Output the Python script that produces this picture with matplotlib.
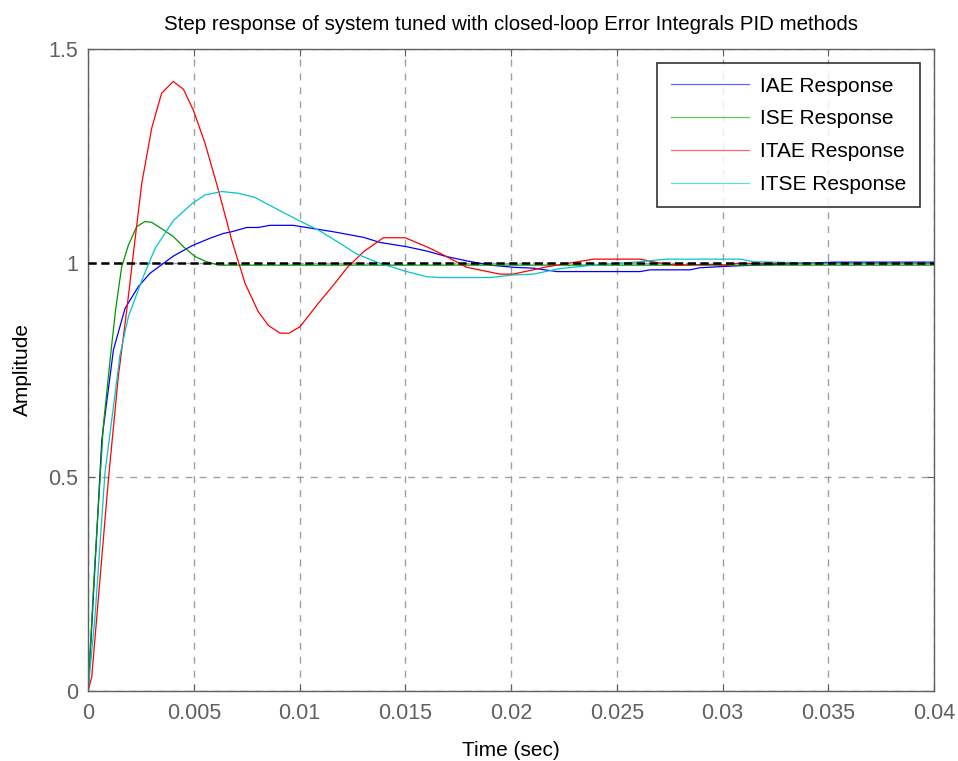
import numpy as np
import matplotlib
matplotlib.use("Agg")
import matplotlib.pyplot as plt

plt.rcParams['font.family'] = ['Liberation Sans', 'DejaVu Sans']

# ---- data ----
t_iae = [0, 0.000175, 0.00065, 0.0012, 0.00175, 0.00238, 0.00293, 0.00403, 0.0049,
         0.00577, 0.0064, 0.00679, 0.0075, 0.00805, 0.0086, 0.00971, 0.01058, 0.0116,
         0.01302, 0.01381, 0.01507, 0.01601, 0.01696, 0.0179, 0.01901, 0.0201, 0.02105,
         0.02216, 0.0261, 0.02657, 0.02846, 0.02894, 0.03051, 0.03524, 0.04]
y_iae = [0, 0.150, 0.586, 0.797, 0.894, 0.945, 0.976, 1.016, 1.040,
         1.058, 1.069, 1.073, 1.083, 1.083, 1.088, 1.088, 1.081, 1.073,
         1.060, 1.048, 1.038, 1.028, 1.015, 1.005, 0.995, 0.990, 0.988,
         0.980, 0.980, 0.984, 0.984, 0.989, 0.993, 1.002, 1.002]

t_ise = [0, 0.0003, 0.00072, 0.00104, 0.00131, 0.00159, 0.00191, 0.0023, 0.0027,
         0.00301, 0.00364, 0.00403, 0.00451, 0.00506, 0.00561, 0.00616, 0.04]
y_ise = [0, 0.28, 0.618, 0.773, 0.894, 0.991, 1.042, 1.085, 1.097,
         1.095, 1.075, 1.062, 1.038, 1.015, 1.003, 0.995, 0.995]

t_itae = [0, 0.000175, 0.00096, 0.00143, 0.00183, 0.00222, 0.00254, 0.00301, 0.00348,
          0.00403, 0.00451, 0.00498, 0.00553, 0.00616, 0.00679, 0.00742, 0.00805,
          0.00853, 0.00908, 0.0095, 0.01002, 0.01089, 0.01168, 0.01223, 0.01302,
          0.01396, 0.01499, 0.01601, 0.0168, 0.0179, 0.01948, 0.0201, 0.02169,
          0.0239, 0.0261, 0.02689, 0.02783, 0.02957, 0.0302, 0.03067, 0.04]
y_itae = [0, 0.033, 0.493, 0.734, 0.890, 1.054, 1.186, 1.315, 1.397,
          1.424, 1.406, 1.357, 1.280, 1.171, 1.054, 0.953, 0.886,
          0.854, 0.836, 0.836, 0.851, 0.906, 0.953, 0.988, 1.026,
          1.059, 1.059, 1.038, 1.019, 0.990, 0.974, 0.974, 0.991,
          1.009, 1.009, 1.001, 0.995, 0.997, 0.995, 0.999, 0.999]

t_itse = [0, 0.00033, 0.0008, 0.00151, 0.00191, 0.00261, 0.00317, 0.00403, 0.0049,
          0.00553, 0.00632, 0.00711, 0.0079, 0.009, 0.00994, 0.01089, 0.01191,
          0.0127, 0.01381, 0.01507, 0.01601, 0.01664, 0.01901, 0.0201, 0.02105,
          0.02232, 0.0239, 0.0261, 0.02736, 0.03083, 0.03146, 0.03524, 0.04]
y_itse = [0, 0.174, 0.509, 0.785, 0.875, 0.968, 1.034, 1.099, 1.138,
          1.159, 1.167, 1.163, 1.153, 1.124, 1.100, 1.077, 1.046,
          1.021, 0.999, 0.980, 0.968, 0.966, 0.966, 0.972, 0.974,
          0.987, 0.995, 1.003, 1.009, 1.009, 1.003, 0.999, 1.0]

labels = ["IAE Response", "ISE Response", "ITAE Response", "ITSE Response"]
setpoint = 1.0
x_ticks = [0, 0.005, 0.01, 0.015, 0.02, 0.025, 0.03, 0.035, 0.04]
x_ticklabels = ["0", "0.005", "0.01", "0.015", "0.02", "0.025", "0.03", "0.035", "0.04"]
y_ticks = [0, 0.5, 1, 1.5]
y_ticklabels = ["0", "0.5", "1", "1.5"]

gray = "#606060"

fig = plt.figure(figsize=(9.58, 7.61), dpi=100)
ax = fig.add_axes([0.0919, 0.092, 0.8831, 0.8436])

ax.plot(t_iae, y_iae, color=(0, 0, 1), lw=0.9, label=labels[0])
ax.plot(t_ise, y_ise, color=(0, 0.6, 0), lw=0.9, label=labels[1])
ax.plot(t_itae, y_itae, color=(1, 0, 0), lw=0.9, label=labels[2])
ax.plot(t_itse, y_itse, color=(0, 0.78, 0.78), lw=0.9, label=labels[3])
# steady-state reference line
ax.axhline(setpoint, color="black", lw=1.8, ls=(0, (3.3, 1.8)), zorder=3)

ax.set_xlim(0, 0.04)
ax.set_ylim(0, 1.5)
ax.set_xticks(x_ticks)
ax.set_xticklabels(x_ticklabels)
ax.set_yticks(y_ticks)
ax.set_yticklabels(y_ticklabels)
ax.tick_params(labelsize=15.5, colors=gray, direction="in", length=5, pad=7)
ax.tick_params(axis="x", pad=9)
ax.tick_params(top=True, right=True)
for s in ax.spines.values():
    s.set_color(gray)
    s.set_linewidth(1.0)

ax.grid(True, color="#a0a0a0", ls=(0, (5, 5)), lw=1.0)

ax.set_title("Step response of system tuned with closed-loop Error Integrals PID methods",
             fontsize=14.8, pad=14)
ax.set_xlabel("Time (sec)", fontsize=15, labelpad=12)
ax.set_ylabel("Amplitude", fontsize=15, labelpad=12)

leg = ax.legend(loc="upper right", fontsize=15, frameon=True, fancybox=False,
                edgecolor="black", handlelength=3.75, borderpad=0.65,
                labelspacing=0.66, handletextpad=0.55, borderaxespad=0,
                bbox_to_anchor=(0.9835, 0.978))
leg.get_frame().set_linewidth(1.2)
for line in leg.get_lines():
    line.set_alpha(0.6)

fig.savefig("out.png", dpi=100)
